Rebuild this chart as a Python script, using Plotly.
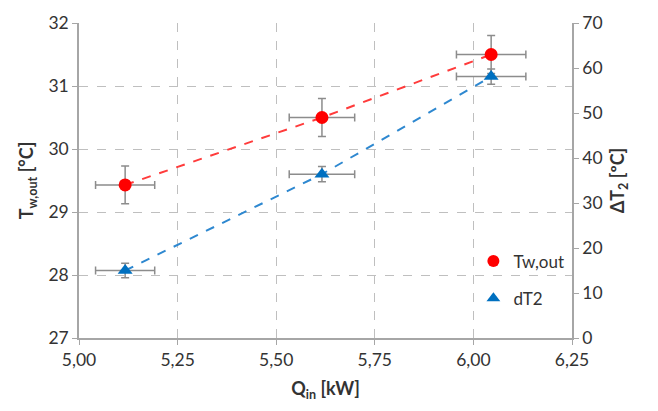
import plotly.graph_objects as go

# Heat input and measured responses
q_in = [5.117, 5.616, 6.045]
q_err = [0.075, 0.083, 0.088]

tw_out = [29.43, 30.50, 31.50]
tw_err = [0.30, 0.30, 0.30]

dt2 = [15.0, 36.4, 58.1]
dt2_err = [1.6, 1.7, 1.7]

x_ticks = [5.00, 5.25, 5.50, 5.75, 6.00, 6.25]
y_left_ticks = [27, 28, 29, 30, 31, 32]
y_right_ticks = [0, 10, 20, 30, 40, 50, 60, 70]

FONT = "Lato"
GRID = "#BFBFBF"
AXIS = "#A6A6A6"
ERR = "#8C8C8C"
RED = "#FF0000"
BLUE = "#0070C0"

fig = go.Figure()

# dashed connecting lines
fig.add_trace(go.Scatter(x=q_in, y=tw_out, mode="lines", showlegend=False,
                         line=dict(color="#FF3B3B", width=2, dash="dash"),
                         hoverinfo="skip"))
fig.add_trace(go.Scatter(x=q_in, y=dt2, mode="lines", showlegend=False,
                         yaxis="y2",
                         line=dict(color="#2E88D0", width=2, dash="dash"),
                         hoverinfo="skip"))

# markers with error bars
fig.add_trace(go.Scatter(
    x=q_in, y=tw_out, mode="markers", name="Tw,out", legendgroup="a",
    marker=dict(symbol="circle", size=13, color=RED),
    error_x=dict(type="data", array=q_err, color=ERR, thickness=1.5, width=4),
    error_y=dict(type="data", array=tw_err, color=ERR, thickness=1.5, width=4),
))
fig.add_trace(go.Scatter(
    x=q_in, y=dt2, mode="markers", name="dT2", yaxis="y2", legendgroup="b",
    marker=dict(symbol="triangle-up", size=13, color=BLUE),
    error_x=dict(type="data", array=q_err, color=ERR, thickness=1.5, width=4),
    error_y=dict(type="data", array=dt2_err, color=ERR, thickness=1.5, width=4),
))

fig.update_layout(
    width=658, height=411,
    margin=dict(l=79, r=86, t=20, b=73),
    paper_bgcolor="white", plot_bgcolor="white",
    separators=",.",
    font=dict(family=FONT, size=17.5, color="#333333"),
    xaxis=dict(
        range=[5.0, 6.25], tickvals=x_ticks, tickformat=".2f",
        showgrid=True, gridcolor=GRID, griddash="dash", gridwidth=1,
        showline=True, linecolor=AXIS, linewidth=1.5,
        ticks="outside", ticklen=5, tickcolor=AXIS,
        zeroline=False,
        title=dict(text="<b>Q<sub>in</sub> [kW]</b>", font=dict(size=18), standoff=14),
    ),
    yaxis=dict(
        range=[27, 32], tickvals=y_left_ticks,
        showgrid=True, gridcolor=GRID, griddash="dash", gridwidth=1,
        showline=True, linecolor=AXIS, linewidth=1.5,
        ticks="outside", ticklen=5, tickcolor=AXIS,
        zeroline=False,
        title=dict(text="<b>T<sub>w,out</sub> [°C]</b>", font=dict(size=18), standoff=10),
    ),
    yaxis2=dict(
        range=[0, 70], tickvals=y_right_ticks, overlaying="y", side="right",
        showgrid=False, showline=True, linecolor=AXIS, linewidth=1.5,
        ticks="outside", ticklen=5, tickcolor=AXIS,
        zeroline=False,
        title=dict(text="<b>ΔT<sub>2</sub> [ºC]</b>", font=dict(size=18), standoff=10),
    ),
    legend=dict(
        x=0.80, y=0.30, xanchor="left", yanchor="top",
        bgcolor="rgba(0,0,0,0)", font=dict(size=17),
        tracegroupgap=12, itemwidth=30, itemsizing="constant",
    ),
)

fig.write_html("out.html")
